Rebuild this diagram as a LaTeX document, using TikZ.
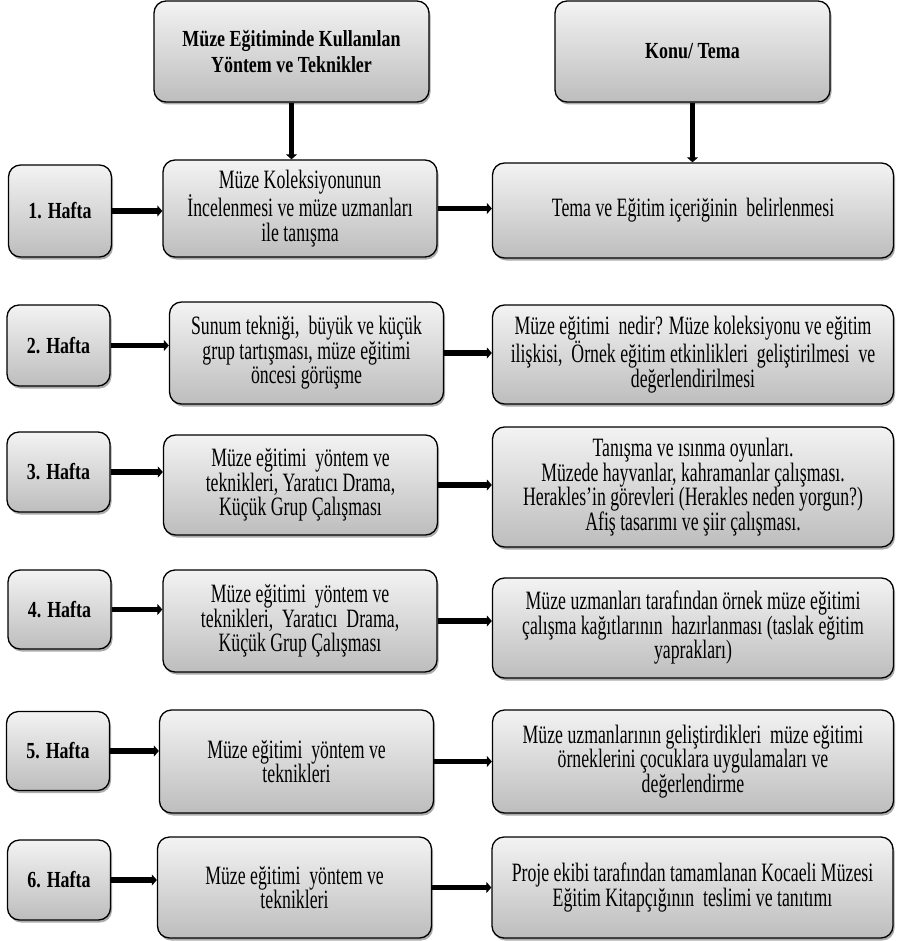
\documentclass[tikz,border=0pt]{standalone}
\usepackage{fontspec}
\setmainfont{Liberation Serif}[FakeStretch=0.67,BoldFeatures={FakeStretch=0.78}]
\usetikzlibrary{arrows.meta,positioning,shadows}
\definecolor{griust}{HTML}{F3F3F3}
\definecolor{grialt}{HTML}{BDBDBD}
\tikzset{
  kutu/.style={draw=black,line width=1.3pt,rounded corners=12pt,top color=griust,bottom color=grialt,
    drop shadow={shadow xshift=1.5pt,shadow yshift=-2.5pt,fill=black!60,opacity=0.55},
    align=center,font=\fontsize{26.5}{24.5}\selectfont,inner sep=4pt},
  kutubaslik/.style={kutu,font=\bfseries\fontsize{23}{26}\selectfont,minimum width=275pt,minimum height=101pt},
  kutuhafta/.style={kutu,font=\bfseries\fontsize{23}{26}\selectfont,minimum width=103pt},
  kutuorta/.style={kutu,minimum width=274pt},
  kutusag/.style={kutu,minimum width=401pt},
  ok/.style={-{Triangle[length=5pt,width=11pt]},line width=5.5pt,black},
}

\begin{document}
\begin{tikzpicture}[x=1pt,y=-1pt]
  \useasboundingbox (0,0) rectangle (898,941);
  % basliklar
  \node[kutubaslik] (yontem) at (291.5,51.5) {Müze Eğitiminde Kullanılan\\Yöntem ve Teknikler};
  \node[kutubaslik] (konu) at (692.5,51.5) {Konu/ Tema};
  % 1. hafta
  \node[kutuhafta,minimum height=92pt] (h1) at (60,211) {1. Hafta};
  \node[kutuorta,minimum height=97pt] (m1) at (300,208.5) {Müze Koleksiyonunun\\İncelenmesi ve müze uzmanları\\ile tanışma};
  \node[kutusag,minimum height=95pt] (r1) at (693,210.5) {Tema ve Eğitim içeriğinin\ \ belirlenmesi};
  % 2. hafta
  \node[kutuhafta,minimum height=81pt] (h2) at (58.5,345.5) {2. Hafta};
  \node[kutuorta,minimum height=102pt] (m2) at (306.5,353) {Sunum tekniği,\ \ büyük ve küçük\\grup tartışması, müze eğitimi\\öncesi görüşme};
  \node[kutusag,minimum height=99pt] (r2) at (693,354.5) {Müze eğitimi\ \ nedir? Müze koleksiyonu ve eğitim\\ilişkisi,\ \ Örnek eğitim etkinlikleri\ \ geliştirilmesi\ \ ve\\değerlendirilmesi};
  % 3. hafta
  \node[kutuhafta,minimum height=80pt] (h3) at (58.5,472) {3. Hafta};
  \node[kutuorta,minimum height=100pt] (m3) at (300.5,485) {Müze eğitimi\ \ yöntem ve\\teknikleri, Yaratıcı Drama,\\Küçük Grup Çalışması};
  \node[kutusag,minimum height=120pt] (r3) at (693,487) {Tanışma ve ısınma oyunları.\\Müzede hayvanlar, kahramanlar çalışması.\\Herakles’in görevleri (Herakles neden yorgun?)\\Afiş tasarımı ve şiir çalışması.};
  % 4. hafta
  \node[kutuhafta,minimum height=79pt] (h4) at (59.5,609.5) {4. Hafta};
  \node[kutuorta,minimum height=102pt] (m4) at (300,621) {Müze eğitimi\ \ yöntem ve\\teknikleri,\ \ Yaratıcı\ \ Drama,\\Küçük Grup Çalışması};
  \node[kutusag,minimum height=100pt] (r4) at (693,628) {Müze uzmanları tarafından örnek müze eğitimi\\çalışma kağıtlarının\ \ hazırlanması (taslak eğitim\\yaprakları)};
  % 5. hafta
  \node[kutuhafta,minimum height=79pt] (h5) at (58,751) {5. Hafta};
  \node[kutuorta,minimum height=103pt] (m5) at (296.5,761.5) {Müze eğitimi\ \ yöntem ve\\teknikleri};
  \node[kutusag,minimum height=103pt] (r5) at (693,761.5) {Müze uzmanlarının geliştirdikleri\ \ müze eğitimi\\örneklerini çocuklara uygulamaları ve\\değerlendirme};
  % 6. hafta
  \node[kutuhafta,minimum height=80pt] (h6) at (59,880) {6. Hafta};
  \node[kutuorta,minimum height=101pt] (m6) at (294.5,887.5) {Müze eğitimi\ \ yöntem ve\\teknikleri};
  \node[kutusag,minimum height=101pt] (r6) at (692.5,887.5) {Proje ekibi tarafından tamamlanan Kocaeli Müzesi\\Eğitim Kitapçığının\ \ teslimi ve tanıtımı};
  % oklar
  \draw[ok] (yontem.south) -- (yontem.south |- m1.north);
  \draw[ok] (konu.south) -- (konu.south |- r1.north);
  \foreach \i in {1,...,6}{
    \draw[ok] (h\i.east) -- (h\i.east -| m\i.west);
    \draw[ok] (m\i.east) -- (m\i.east -| r\i.west);
  }
\end{tikzpicture}
\end{document}
